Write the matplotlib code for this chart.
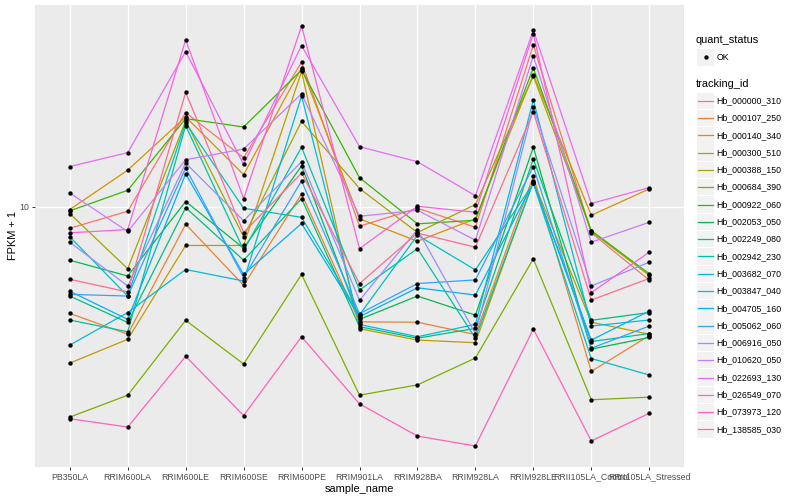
import numpy as np
import matplotlib
matplotlib.use("Agg")
import matplotlib.pyplot as plt
from matplotlib.ticker import NullLocator
from matplotlib.patches import Rectangle

plt.rcParams['font.family'] = ['Liberation Sans', 'DejaVu Sans']

samples = ["PB350LA", "RRIM600LA", "RRIM600LE", "RRIM600SE", "RRIM600PE",
           "RRIM901LA", "RRIM928BA", "RRIM928LA", "RRIM928LE",
           "RRII105LA_Control", "RRII105LA_Stressed"]

tracking_ids = ["Hb_000000_310", "Hb_000107_250", "Hb_000140_340", "Hb_000300_510",
                "Hb_000388_150", "Hb_000684_390", "Hb_000922_060", "Hb_002053_050",
                "Hb_002249_080", "Hb_002942_230", "Hb_003682_070", "Hb_003847_040",
                "Hb_004705_160", "Hb_005062_060", "Hb_006916_050", "Hb_010620_050",
                "Hb_022693_130", "Hb_026549_070", "Hb_073973_120", "Hb_138585_030"]

# FPKM + 1, one value per sample
hb_000000_310 = [8.12, 9.56, 24.7, 16.0, 40.1, 8.28, 9.84, 8.20, 47.3, 7.77, 4.93]
hb_000107_250 = [3.58, 2.93, 8.44, 4.69, 11.3, 3.30, 3.29, 2.92, 13.4, 2.05, 2.89]
hb_000140_340 = [9.72, 14.2, 23.7, 13.6, 38.0, 8.89, 7.17, 8.89, 35.6, 9.20, 11.85]
hb_000300_510 = [2.22, 2.79, 6.88, 6.88, 36.7, 3.09, 2.77, 2.70, 12.8, 3.29, 2.93]
hb_000388_150 = [9.35, 5.50, 22.8, 7.48, 22.7, 11.9, 7.79, 10.2, 35.1, 7.87, 5.16]
hb_000684_390 = [1.32, 1.63, 3.35, 2.20, 5.21, 1.63, 1.80, 2.33, 6.05, 1.56, 1.60]
hb_000922_060 = [9.60, 11.7, 23.3, 21.5, 37.2, 13.2, 8.47, 8.77, 38.0, 7.94, 5.24]
hb_002053_050 = [5.97, 5.13, 10.5, 6.70, 14.8, 3.38, 4.23, 3.52, 17.7, 2.54, 2.84]
hb_002249_080 = [4.23, 3.28, 9.90, 5.97, 10.8, 3.15, 2.82, 3.10, 15.8, 3.35, 3.61]
hb_002942_230 = [3.36, 3.00, 21.8, 6.58, 17.7, 4.48, 6.68, 2.82, 12.65, 2.73, 2.95]
hb_003682_070 = [7.48, 4.23, 22.4, 9.84, 9.02, 3.53, 7.59, 5.44, 12.5, 2.32, 1.98]
hb_003847_040 = [2.64, 3.61, 5.46, 4.89, 29.0, 3.22, 2.86, 3.22, 27.9, 3.17, 3.36]
hb_004705_160 = [4.43, 3.38, 13.7, 5.21, 8.50, 3.47, 4.58, 4.27, 12.6, 2.77, 3.66]
hb_005062_060 = [4.30, 4.23, 14.5, 5.05, 12.8, 3.57, 4.77, 4.94, 14.7, 2.56, 3.17]
hb_006916_050 = [7.10, 4.66, 15.2, 8.72, 15.4, 4.06, 8.02, 2.95, 26.0, 4.66, 5.86]
hb_010620_050 = [11.4, 7.87, 15.7, 17.4, 29.6, 9.11, 9.65, 7.24, 42.6, 7.10, 8.60]
hb_022693_130 = [14.7, 16.8, 44.4, 15.0, 47.0, 17.8, 15.4, 11.1, 54.6, 10.3, 12.0]
hb_026549_070 = [7.77, 8.02, 49.7, 10.8, 56.8, 6.67, 10.03, 9.47, 52.8, 4.37, 6.45]
hb_073973_120 = [1.30, 1.20, 2.37, 1.34, 2.86, 1.50, 1.10, 1.00, 3.08, 1.05, 1.37]
hb_138585_030 = [4.97, 4.40, 30.0, 7.79, 13.8, 4.77, 7.75, 6.77, 24.9, 4.07, 5.01]

series = [hb_000000_310, hb_000107_250, hb_000140_340, hb_000300_510, hb_000388_150,
          hb_000684_390, hb_000922_060, hb_002053_050, hb_002249_080, hb_002942_230,
          hb_003682_070, hb_003847_040, hb_004705_160, hb_005062_060, hb_006916_050,
          hb_010620_050, hb_022693_130, hb_026549_070, hb_073973_120, hb_138585_030]

quant_levels = ["OK"]

# ggplot hue palette, 20 levels
colors = ["#F8766D", "#EA8331", "#D89000", "#C09B00", "#A3A500", "#7CAE00", "#39B600",
          "#00BB4E", "#00BF7D", "#00C1A3", "#00BFC4", "#00BAE0", "#00B0F6", "#35A2FF",
          "#9590FF", "#C77CFF", "#E76BF3", "#FA62DB", "#FF62BC", "#FF6C91"]

fig = plt.figure(figsize=(8, 5), dpi=100)
ax = fig.add_axes([35 / 800, 33 / 500, 649 / 800, 462 / 500])

x = np.arange(len(samples))
for vals, c in zip(series, colors):
    ax.plot(x, vals, color=c, lw=0.9, zorder=2)
for vals in series:
    ax.scatter(x, vals, s=10, color="black", zorder=3, linewidths=0)

ax.set_yscale("log")
allv = np.concatenate([np.log10(v) for v in series])
span = allv.max() - allv.min()
ax.set_ylim(10 ** (allv.min() - 0.05 * span), 10 ** (allv.max() + 0.05 * span))
ax.set_xlim(-0.6, len(samples) - 0.4)
ax.set_yticks([10])
ax.set_yticklabels(["10"])
ax.yaxis.set_minor_locator(NullLocator())
ax.set_xticks(x)
ax.set_xticklabels(samples)

ax.set_facecolor("#EBEBEB")
ax.grid(color="white", lw=1.0)
ax.set_axisbelow(True)
for s in ax.spines.values():
    s.set_visible(False)
ax.tick_params(length=2.5, width=0.7, color="#333333", labelcolor="#4D4D4D",
               labelsize=6.3, pad=1.5)
ax.set_xlabel("sample_name", fontsize=7.9, labelpad=2)
ax.set_ylabel("FPKM + 1", fontsize=7.9, labelpad=1)

# legends, drawn in pixel coordinates
lax = fig.add_axes([0, 0, 1, 1])
lax.set_xlim(0, 800)
lax.set_ylim(500, 0)
lax.axis("off")
lax.patch.set_alpha(0)

lax.text(696, 40, "quant_status", fontsize=7.9, va="center", ha="left")
for i, lev in enumerate(quant_levels):
    cy = 57.3 + i * 17.3
    lax.add_patch(Rectangle((697, cy - 8.2), 17, 16.4, color="#F2F2F2", lw=0))
    lax.scatter([705.5], [cy], s=10, color="black", linewidths=0)
    lax.text(716.5, cy, lev, fontsize=6.3, va="center", ha="left")

lax.text(696, 84.3, "tracking_id", fontsize=7.9, va="center", ha="left")
for i, (tid, c) in enumerate(zip(tracking_ids, colors)):
    cy = 100.7 + i * 17.3
    lax.add_patch(Rectangle((697, cy - 8.2), 17, 16.4, color="#F2F2F2", lw=0))
    lax.plot([698, 713], [cy, cy], color=c, lw=0.9)
    lax.text(716.5, cy, tid, fontsize=6.3, va="center", ha="left")

fig.savefig("out.png", dpi=100)
